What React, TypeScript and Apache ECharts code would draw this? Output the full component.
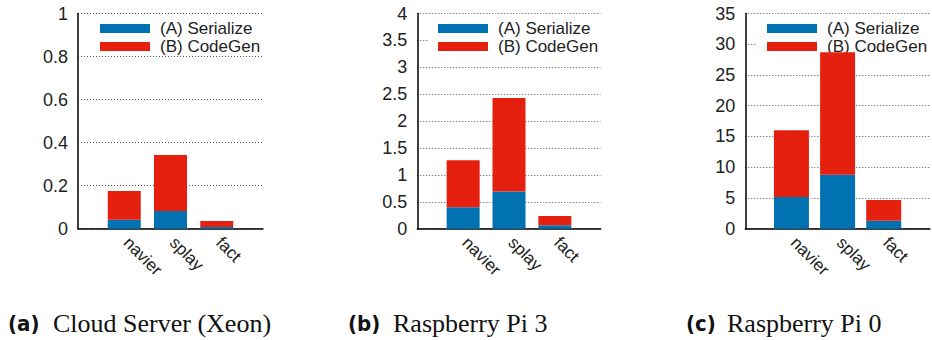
import React, { useEffect, useRef } from "react";
import * as echarts from "echarts";

const categories = ["navier", "splay", "fact"];
const seriesNames = ["(A) Serialize", "(B) CodeGen"];

// (a) Cloud Server (Xeon)
const xeonSerialize = [0.042, 0.082, 0.008];
const xeonCodeGen = [0.133, 0.261, 0.028];
// (b) Raspberry Pi 3
const pi3Serialize = [0.4, 0.69, 0.063];
const pi3CodeGen = [0.87, 1.74, 0.173];
// (c) Raspberry Pi 0
const pi0Serialize = [5.15, 8.78, 1.3];
const pi0CodeGen = [10.85, 19.92, 3.36];

const yMax = [1, 4, 35];
const yInterval = [0.2, 0.5, 5];
const captionTags = ["(a)", "(b)", "(c)"];
const captionTexts = ["Cloud Server (Xeon)", "Raspberry Pi 3", "Raspberry Pi 0"];

const BLUE = "#0072B2";
const RED = "#E6200F";
const SANS = "'Liberation Sans', Arial, Helvetica, sans-serif";

const layout = [
  { left: 78, width: 185, barWidth: 33, legendLeft: 90, capX: 8, textX: 53 },
  { left: 417.3, width: 183.4, barWidth: 33, legendLeft: 428, capX: 348, textX: 393 },
  { left: 745.3, width: 194, barWidth: 35, legendLeft: 757, capX: 686, textX: 727 },
];

export default function App() {
  const ref = useRef<HTMLDivElement>(null);
  useEffect(() => {
    if (!ref.current) return;
    const chart = echarts.init(ref.current, undefined, { renderer: "svg" });
    const serializeSets = [xeonSerialize, pi3Serialize, pi0Serialize];
    const codegenSets = [xeonCodeGen, pi3CodeGen, pi0CodeGen];
    const axisData = ["", ...categories, ""];
    const pad = (v: number[]) => ["-", ...v, "-"];

    const grid: any[] = [];
    const xAxis: any[] = [];
    const yAxis: any[] = [];
    const series: any[] = [];
    const legend: any[] = [];
    const graphic: any[] = [];

    layout.forEach((p, i) => {
      grid.push({ left: p.left, top: 13.5, width: p.width, height: 215.2 });
      xAxis.push({
        type: "category",
        gridIndex: i,
        boundaryGap: false,
        data: axisData,
        axisLine: { lineStyle: { color: "#000", width: 1.5 } },
        axisTick: { show: false },
        axisLabel: {
          rotate: -45,
          interval: 0,
          fontSize: 17,
          color: "#222",
          fontFamily: SANS,
          margin: 9,
          padding: [0, 0, 0, 3],
        },
        splitLine: { show: false },
      });
      yAxis.push({
        type: "value",
        gridIndex: i,
        min: 0,
        max: yMax[i],
        interval: yInterval[i],
        axisLine: { show: true, lineStyle: { color: "#000", width: 1.5 } },
        axisTick: { show: false },
        axisLabel: { fontSize: 18, color: "#222", fontFamily: SANS, margin: 10 },
        splitLine: { lineStyle: { color: "#555", type: [1, 2], width: 1 } },
      });
      series.push({
        type: "bar",
        name: seriesNames[0],
        xAxisIndex: i,
        yAxisIndex: i,
        stack: "s" + i,
        barWidth: p.barWidth,
        itemStyle: { color: BLUE },
        data: pad(serializeSets[i]),
        z: 2,
      });
      series.push({
        type: "bar",
        name: seriesNames[1],
        xAxisIndex: i,
        yAxisIndex: i,
        stack: "s" + i,
        barWidth: p.barWidth,
        itemStyle: { color: RED },
        data: pad(codegenSets[i]),
        z: 2,
      });
      legend.push({
        orient: "vertical",
        left: p.legendLeft,
        top: 16.5,
        padding: [3, 4, 0, 10],
        itemWidth: 50,
        itemHeight: 9,
        itemGap: 0,
        icon: "rect",
        backgroundColor: "#fff",
        selectedMode: false,
        z: 1,
        textStyle: {
          fontSize: 17,
          lineHeight: 18,
          fontFamily: SANS,
          color: "#222",
          padding: [0, 0, 0, 5],
        },
        data: seriesNames,
      });
      graphic.push({
        type: "text",
        x: p.capX,
        y: 323,
        style: {
          text: captionTags[i],
          fontSize: 22,
          fontWeight: "bold",
          fontFamily: "'DejaVu Sans Condensed', 'Liberation Sans Narrow', 'DejaVu Sans', sans-serif",
          fill: "#111",
          verticalAlign: "middle",
        },
      });
      graphic.push({
        type: "text",
        x: p.textX,
        y: 323,
        style: {
          text: captionTexts[i],
          fontSize: 26,
          fontFamily: "'Liberation Serif', 'Times New Roman', serif",
          fill: "#111",
          verticalAlign: "middle",
        },
      });
    });

    chart.setOption({
      animation: false,
      backgroundColor: "#fff",
      grid,
      xAxis,
      yAxis,
      series,
      legend,
      graphic,
    });
    return () => chart.dispose();
  }, []);
  return (
    <div
      ref={ref}
      style={{ position: "absolute", left: 0, top: 0, width: 932, height: 340 }}
    />
  );
}
